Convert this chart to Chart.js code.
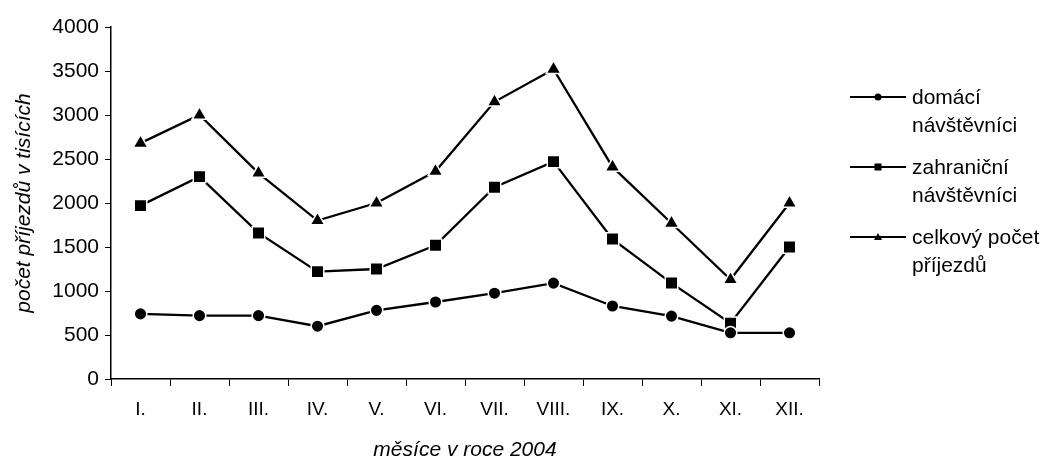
<!DOCTYPE html>
<html>
<head>
<meta charset="utf-8">
<script src="https://cdn.jsdelivr.net/npm/chart.js@4/dist/chart.umd.min.js"></script>
<style>
  body { margin: 0; background: #fff; }
  #wrap { position: relative; width: 1047px; height: 463px; }
  #legend { position: absolute; left: 850px; top: 83px; font-family: "Liberation Sans", Arial, sans-serif; font-size: 21px; color: #000; }
  .item { display: flex; align-items: flex-start; height: 70px; }
  .item svg { flex: none; margin-top: 5px; }
  .item span { margin-left: 6px; line-height: 28px; }
</style>
</head>
<body>
<div id="wrap">
  <canvas id="chart" width="1047" height="463"></canvas>
  <div id="legend"></div>
</div>
<script>
// month labels and series (in thousands)
var months = ["I.", "II.", "III.", "IV.", "V.", "VI.", "VII.", "VIII.", "IX.", "X.", "XI.", "XII."];
var domaci = [740, 720, 720, 600, 780, 875, 975, 1090, 830, 715, 525, 525];
var zahranicni = [1970, 2300, 1660, 1220, 1250, 1520, 2180, 2470, 1590, 1090, 635, 1500];
var celkem = [2680, 3000, 2340, 1800, 2000, 2360, 3150, 3520, 2410, 1770, 1130, 2000];
var seriesNames = [["domácí", "návštěvníci"], ["zahraniční", "návštěvníci"], ["celkový počet", "příjezdů"]];
var yTicks = [0, 500, 1000, 1500, 2000, 2500, 3000, 3500, 4000];

var font = "'Liberation Sans', Arial, sans-serif";

function makeSet(label, data, style, radius) {
  return {
    label: label,
    data: data,
    borderColor: "#000",
    backgroundColor: "#000",
    borderWidth: 2.3,
    pointStyle: style,
    pointRadius: radius,
    pointBorderColor: "#fff",
    pointBorderWidth: 1.5,
    tension: 0,
  };
}

var ctx = document.getElementById("chart").getContext("2d");
var myChart = new Chart(ctx, {
  type: "line",
  data: {
    labels: months,
    datasets: [
      makeSet(seriesNames[0].join(" "), domaci, "circle", 6.3),
      makeSet(seriesNames[1].join(" "), zahranicni, "rect", 8.8),
      makeSet(seriesNames[2].join(" "), celkem, "triangle", 8.5),
    ],
  },
  options: {
    responsive: false,
    animation: false,
    layout: { padding: { top: 27, right: 228, left: 0, bottom: 0 } },
    plugins: { legend: { display: false }, tooltip: { enabled: false } },
    scales: {
      x: {
        offset: true,
        afterFit: function (axis) { axis.height = 84; },
        grid: { offset: true, drawOnChartArea: false, color: "#000", tickLength: 7 },
        border: { color: "#000", width: 1.5 },
        ticks: { color: "#000", font: { family: font, size: 19 }, padding: 12 },
        title: { display: true, text: "měsíce v roce 2004", color: "#000", font: { family: font, size: 21, style: "italic" }, padding: { top: 14, bottom: 0 } },
      },
      y: {
        min: 0,
        max: 4000,
        afterBuildTicks: function (axis) {
          axis.ticks = yTicks.map(function (v) { return { value: v }; });
        },
        afterFit: function (axis) { axis.width = 111; },
        grid: { drawOnChartArea: false, color: "#000", tickLength: 6 },
        border: { color: "#000", width: 1.5 },
        ticks: {
          color: "#000",
          font: { family: font, size: 21 },
          padding: 6,
          callback: function (v) { return String(v); },
        },
        title: { display: true, text: "počet příjezdů v tisících", color: "#000", font: { family: font, size: 21, style: "italic" }, padding: { top: 12, bottom: 0 } },
      },
    },
  },
});

// legend in html
var marks = [
  '<circle cx="28" cy="9" r="3.5" fill="#000"/>',
  '<rect x="24.5" y="5.5" width="7" height="7" fill="#000"/>',
  '<polygon points="28,5 32,12 24,12" fill="#000"/>',
];
var legend = document.getElementById("legend");
seriesNames.forEach(function (name, i) {
  var div = document.createElement("div");
  div.className = "item";
  div.innerHTML =
    '<svg width="56" height="18"><line x1="0" y1="9" x2="56" y2="9" stroke="#000" stroke-width="2"/>' + marks[i] + "</svg>" +
    "<span>" + name[0] + "<br>" + name[1] + "</span>";
  legend.appendChild(div);
});
</script>
</body>
</html>
